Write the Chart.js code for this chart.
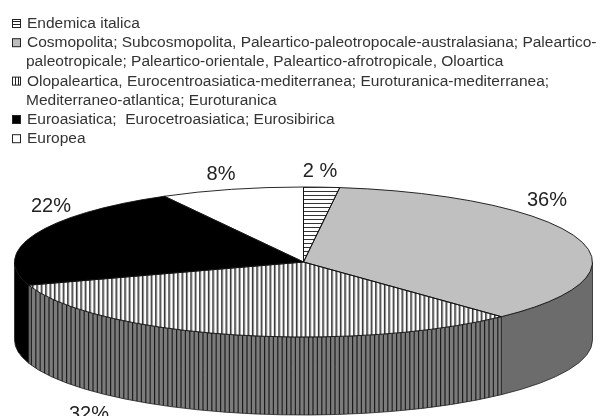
<!DOCTYPE html>
<html>
<head>
<meta charset="utf-8">
<style>
html, body { margin: 0; padding: 0; background: #fff; overflow: hidden; }
</style>
<script src="https://cdn.jsdelivr.net/npm/chart.js@4"></script>
</head>
<body>
<canvas id="myChart" width="600" height="416"></canvas>
<script>
const categories = ['Endemica italica', 'Cosmopolita', 'Olopaleartica', 'Euroasiatica', 'Europea'];
const values = [2, 36, 32, 22, 8];
const pctLabels = ['2 %', '36%', '32%', '22%', '8%'];
const legendLines = [
    ['Endemica italica'],
    ['Cosmopolita; Subcosmopolita, Paleartico-paleotropocale-australasiana; Paleartico-',
     'paleotropicale; Paleartico-orientale, Paleartico-afrotropicale, Oloartica'],
    ['Olopaleartica, Eurocentroasiatica-mediterranea; Euroturanica-mediterranea;',
     'Mediterraneo-atlantica; Euroturanica'],
    ['Euroasiatica;  Eurocetroasiatica; Eurosibirica'],
    ['Europea']
];

// where the flat pie goes on the page
const pie = { x: 303.5, y: 262, rx: 289, ry: 75, depth: 78 };
const labelPos = [[320, 177], [547, 206], [89, 420], [51, 212], [221, 180]];

function stripes(dir, step, bg, line, w) {
    const c = document.createElement('canvas');
    c.width = dir === 'v' ? step : 4;
    c.height = dir === 'v' ? 4 : step;
    const g = c.getContext('2d');
    g.fillStyle = bg;
    g.fillRect(0, 0, c.width, c.height);
    g.fillStyle = line;
    if (dir === 'v') g.fillRect(0, 0, w, c.height);
    else g.fillRect(0, 0, c.width, w);
    return g.createPattern(c, 'repeat');
}

const ctx = document.getElementById('myChart').getContext('2d');

const stripeStretch = 1.1;
const topPatterns = [stripes('h', 4, '#fff', '#333', 1), stripes('v', 4, '#fff', '#333', 1.5)];
const sidePattern = stripes('v', 4, '#7c7c7c', '#161616', 1);
sidePattern.setTransform(new DOMMatrix().scale(stripeStretch, 1));
const sideFills = [null, '#6c6c6c', sidePattern, '#000', null];
const swatchFills = [stripes('h', 3, '#fff', '#222', 1), '#bdbdbd', stripes('v', 3, '#fff', '#222', 1), '#000', '#fff'];

function ellipsePath(c, a, b, dy, ccw) {
    c.ellipse(pie.x, pie.y + dy, pie.rx, pie.ry, 0, a, b, ccw);
}

const pie3d = {
    id: 'pie3d',
    beforeDatasetsDraw(chart) {
        const c = chart.ctx;
        const arcs = chart.getDatasetMeta(0).data;

        // sides, only the front half shows
        arcs.forEach((arc, i) => {
            const s = Math.max(arc.startAngle, 0);
            const e = Math.min(arc.endAngle, Math.PI);
            if (e <= s || !sideFills[i]) return;
            c.beginPath();
            ellipsePath(c, s, e, 0, false);
            ellipsePath(c, e, s, pie.depth, true);
            c.closePath();
            c.fillStyle = sideFills[i];
            c.fill();
            c.lineWidth = 0.8;
            c.strokeStyle = '#222';
            c.stroke();
        });

        // squash the library's round pie into the ellipse
        const arc0 = arcs[0];
        const sx = pie.rx / arc0.outerRadius;
        const sy = pie.ry / arc0.outerRadius;
        topPatterns[0].setTransform(new DOMMatrix().scale(1 / sx, 1 / sy));
        topPatterns[1].setTransform(new DOMMatrix().scale(stripeStretch / sx, 1 / sy));
        c.save();
        c.translate(pie.x, pie.y);
        c.scale(sx, sy);
        c.translate(-arc0.x, -arc0.y);
    },
    afterDatasetsDraw(chart) {
        const c = chart.ctx;
        c.restore();

        // outlines drawn here so the squash doesn't thicken them
        chart.getDatasetMeta(0).data.forEach(arc => {
            c.beginPath();
            c.moveTo(pie.x, pie.y);
            ellipsePath(c, arc.startAngle, arc.endAngle, 0, false);
            c.closePath();
            c.lineWidth = 0.9;
            c.strokeStyle = '#111';
            c.stroke();
        });

        c.fillStyle = '#222';
        c.font = '20px "Liberation Sans"';
        c.textAlign = 'center';
        c.textBaseline = 'alphabetic';
        pctLabels.forEach((t, i) => c.fillText(t, labelPos[i][0], labelPos[i][1]));

        // legend
        c.textAlign = 'left';
        c.font = '15.5px "Liberation Sans"';
        let y = 28;
        legendLines.forEach((lines, i) => {
            c.fillStyle = swatchFills[i];
            c.fillRect(12.5, y - 8.5, 8, 8);
            c.lineWidth = 1;
            c.strokeStyle = '#222';
            c.strokeRect(12.5, y - 8.5, 8, 8);
            c.fillStyle = '#333';
            lines.forEach((t, j) => {
                c.fillText(t, j === 0 ? 27 : 26, y);
                y += 19.2;
            });
        });
    }
};

new Chart(ctx, {
    type: 'pie',
    data: {
        labels: categories,
        datasets: [{
            data: values,
            backgroundColor: [topPatterns[0], '#c0c0c0', topPatterns[1], '#000', '#fff'],
            borderWidth: 0,
            clip: false
        }]
    },
    options: {
        responsive: false,
        animation: false,
        events: [],
        plugins: {
            legend: { display: false },
            tooltip: { enabled: false }
        }
    },
    plugins: [pie3d]
});
</script>
</body>
</html>
